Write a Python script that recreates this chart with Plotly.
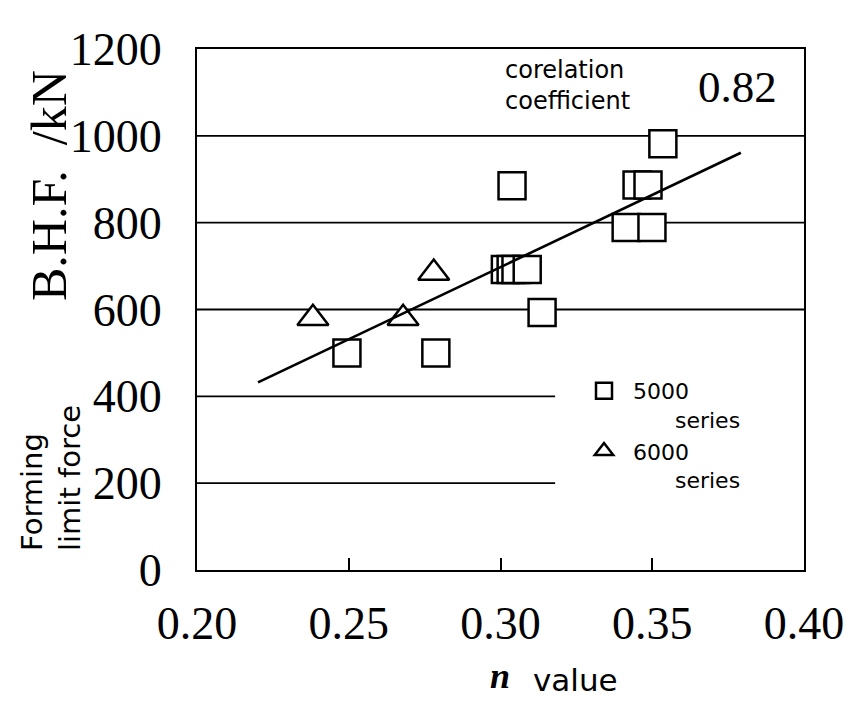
import plotly.graph_objects as go

# ---------------- data ----------------
s5000_n = [0.2494, 0.2787, 0.3016, 0.3035, 0.3051, 0.3088, 0.3038, 0.3137,
           0.3414, 0.3499, 0.3450, 0.3486, 0.3535]
s5000_bhf = [500, 500, 692, 692, 692, 692, 885, 593,
             789, 789, 887, 887, 982]
s6000_n = [0.2382, 0.2679, 0.2780]
s6000_bhf = [580, 580, 684]
fit_n = [0.2201, 0.3792]
fit_bhf = [432, 961]

x_tick_vals = [0.20, 0.25, 0.30, 0.35, 0.40]
x_tick_text = ["0.20", "0.25", "0.30", "0.35", "0.40"]
y_tick_vals = [0, 200, 400, 600, 800, 1000, 1200]
y_tick_text = ["0", "200", "400", "600", "800", "1000", "1200"]
grid_full = [600, 800, 1000]
grid_short = [200, 400]
grid_short_end = 0.318
corr_value = "0.82"

# ---------------- layout constants ----------------
W_FIG, H_FIG = 851, 707
L, R, T, B = 189, 55, 41, 145
PW, PH = W_FIG - L - R, H_FIG - T - B

def pxx(px):
    return (px - L) / PW

def pxy(py):
    return (T + PH - py) / PH

SERIF = "Liberation Serif, Times New Roman, serif"
SANS = "DejaVu Sans, Verdana, sans-serif"
NB = "\u00a0"

fig = go.Figure()

fig.add_trace(go.Scatter(
    x=s5000_n, y=s5000_bhf, mode="markers",
    name="5000<br>" + NB * 6 + "series",
    marker=dict(symbol="square", size=27, color="white",
                line=dict(color="black", width=2.5)),
))
fig.add_trace(go.Scatter(
    x=s6000_n, y=s6000_bhf, mode="markers",
    name="6000<br>" + NB * 6 + "series",
    marker=dict(symbol="triangle-up", size=27, color="white",
                line=dict(color="black", width=2.5)),
))
fig.add_trace(go.Scatter(
    x=fit_n, y=fit_bhf, mode="lines", showlegend=False,
    line=dict(color="black", width=2.6),
))

shapes = []
for g in grid_full:
    shapes.append(dict(type="line", xref="paper", yref="y", x0=0, x1=1,
                       y0=g, y1=g, layer="below",
                       line=dict(color="black", width=1.8)))
for g in grid_short:
    shapes.append(dict(type="line", xref="x", yref="y", x0=x_tick_vals[0],
                       x1=grid_short_end, y0=g, y1=g, layer="below",
                       line=dict(color="black", width=1.8)))

annotations = [
    dict(text="corelation<br>coefficient", x=pxx(495), y=pxy(77),
         xref="paper", yref="paper", align="left",
         xanchor="left", yanchor="middle", showarrow=False,
         font=dict(family=SANS, size=24, color="black")),
    dict(text=corr_value, x=pxx(729), y=pxy(79), xref="paper", yref="paper",
         xanchor="center", yanchor="middle", showarrow=False,
         font=dict(family=SERIF, size=45, color="black")),
    dict(text="B.H.F." + NB * 2 + "/kN", x=pxx(41), y=pxy(178),
         xref="paper", yref="paper",
         xanchor="center", yanchor="middle", showarrow=False, textangle=-90,
         font=dict(family=SERIF, size=50, color="black")),
    dict(text="Forming<br>limit force", x=pxx(43), y=pxy(545),
         xref="paper", yref="paper", align="left",
         xanchor="center", yanchor="bottom", showarrow=False, textangle=-90,
         font=dict(family=SANS, size=29, color="black")),
    dict(text="<b><i>n</i></b>", x=pxx(492), y=pxy(668), xref="paper", yref="paper",
         xanchor="center", yanchor="middle", showarrow=False,
         font=dict(family=SERIF, size=36, color="black")),
    dict(text="value", x=pxx(523), y=pxy(672), xref="paper", yref="paper",
         xanchor="left", yanchor="middle", showarrow=False,
         font=dict(family=SANS, size=31, color="black")),
]

fig.update_layout(
    width=W_FIG, height=H_FIG,
    margin=dict(l=L, r=R, t=T, b=B),
    paper_bgcolor="white", plot_bgcolor="white",
    shapes=shapes, annotations=annotations,
    showlegend=True,
    legend=dict(x=pxx(567), y=pxy(362), xanchor="left", yanchor="top",
                bgcolor="rgba(0,0,0,0)", borderwidth=0,
                font=dict(family=SANS, size=22, color="black"),
                itemwidth=48, itemsizing="trace", valign="top",
                tracegroupgap=0),
    xaxis=dict(range=[0.20, 0.40], tickvals=x_tick_vals, ticktext=x_tick_text,
               showgrid=False, zeroline=False, showline=True, mirror=True,
               linecolor="black", linewidth=2, ticks="inside", ticklen=12,
               tickwidth=2, tickcolor="black", ticklabelstandoff=12,
               tickfont=dict(family=SERIF, size=46, color="black")),
    yaxis=dict(range=[0, 1200], tickvals=y_tick_vals, ticktext=y_tick_text,
               showgrid=False, zeroline=False, showline=True, mirror=True,
               linecolor="black", linewidth=2, ticks="", ticklabelstandoff=24,
               tickfont=dict(family=SERIF, size=46, color="black")),
)

fig.write_html("out.html")
